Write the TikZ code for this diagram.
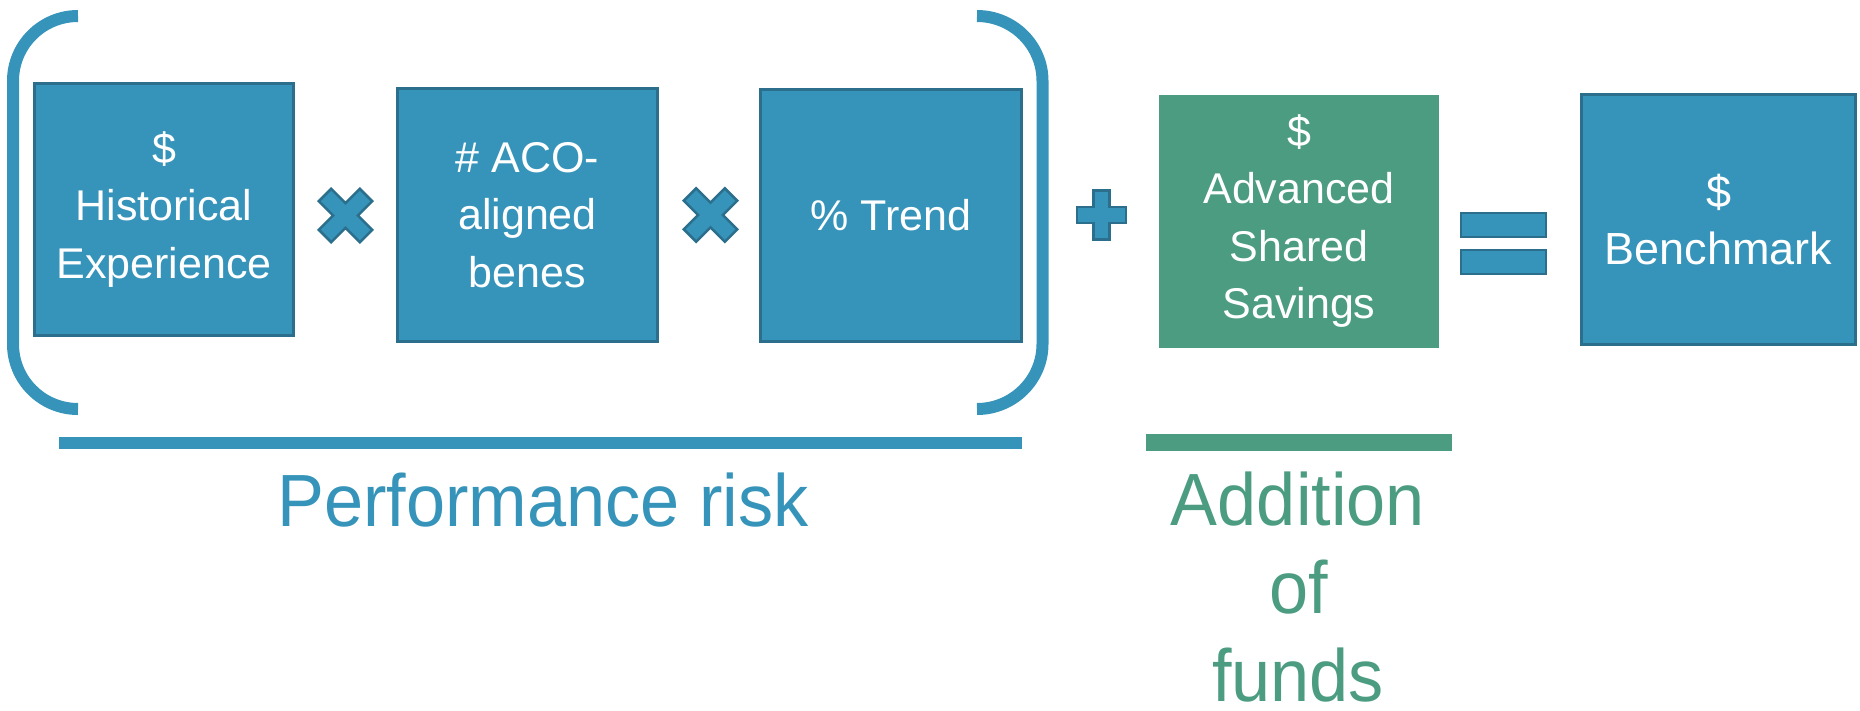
\documentclass[tikz,border=0pt]{standalone}
\usepackage{fontspec}
\setmainfont{Liberation Sans}
\newfontfamily\bigfont{Liberation Sans}[FakeStretch=0.95]
\definecolor{fillblue}{HTML}{3694BA}
\definecolor{edgeblue}{HTML}{2C6F8D}
\definecolor{fillgreen}{HTML}{4C9C82}
\tikzset{
  boxb/.style={draw=edgeblue, line width=2.5pt, fill=fillblue, text=white, inner sep=0pt,
    align=center, font=\fontsize{43}{57.5}\selectfont},
  boxg/.style={draw=fillgreen, line width=1pt, fill=fillgreen, text=white, inner sep=0pt,
    align=center, font=\fontsize{43}{57.5}\selectfont},
  opsign/.style={draw=edgeblue, line width=2.5pt, fill=fillblue},
  brk/.style={draw=fillblue, line width=12pt},
  biglabel/.style={font=\bigfont\fontsize{74}{89}\selectfont, anchor=base, inner sep=0pt},
  xsign/.pic={
    \draw[opsign, rotate=45] (8.8,29) -- (8.8,8.8) -- (29,8.8) -- (29,-8.8) -- (8.8,-8.8) -- (8.8,-29)
      -- (-8.8,-29) -- (-8.8,-8.8) -- (-29,-8.8) -- (-29,8.8) -- (-8.8,8.8) -- (-8.8,29) -- cycle;
  },
  plussign/.pic={
    \draw[opsign] (7.8,24.5) -- (7.8,7.8) -- (24.5,7.8) -- (24.5,-7.8) -- (7.8,-7.8) -- (7.8,-24.5)
      -- (-7.8,-24.5) -- (-7.8,-7.8) -- (-24.5,-7.8) -- (-24.5,7.8) -- (-7.8,7.8) -- (-7.8,24.5) -- cycle;
  }
}
\begin{document}
\begin{tikzpicture}[x=1pt,y=-1pt]
\useasboundingbox (0,0) rectangle (1860,710);

% brackets
\draw[brk] (78,16) .. controls (42,16) and (13,45) .. (13,81) -- (13,344)
  .. controls (13,380) and (42,409) .. (78,409);
\draw[brk] (977,16) .. controls (1013,16) and (1042.5,45) .. (1042.5,81) -- (1042.5,344)
  .. controls (1042.5,380) and (1013,409) .. (977,409);

% boxes
\node[boxb, minimum width=259pt, minimum height=252pt] (hist) at (164,209.5) {\$\\Historical\\Experience};
\node[boxb, minimum width=260pt, minimum height=253pt] (aco) at (527.5,215) {\# ACO-\\aligned\\benes};
\node[boxb, minimum width=261pt, minimum height=252pt] (trend) at (891,215.5) {\%\ Trend};
\node[boxg, minimum width=279pt, minimum height=252pt] (ass) at (1299,221) {\$\\Advanced\\Shared\\Savings};
\node[boxb, minimum width=274pt, minimum height=250pt, font=\fontsize{45}{57.5}\selectfont] (bench) at (1718.5,219.5) {\$\\Benchmark};

% operators
\pic at (345.5,215.5) {xsign};
\pic at (710.5,215) {xsign};
\pic at (1101.5,215) {plussign};
\draw[opsign] (1461.2,213.2) rectangle (1545.8,236.8);
\draw[opsign] (1461.2,250.2) rectangle (1545.8,273.8);

% underlines
\fill[fillblue] (59,437) rectangle (1022,449);
\fill[fillgreen] (1146,434) rectangle (1452,451);

% labels
\node[biglabel, text=fillblue] (perf) at (543,526) {Performance risk};
\node[biglabel, text=fillgreen] (addA) at (1298,525) {Addition};
\node[biglabel, text=fillgreen] (addB) at (1299,613) {of};
\node[biglabel, text=fillgreen] (addC) at (1298,701) {funds};
\end{tikzpicture}
\end{document}
